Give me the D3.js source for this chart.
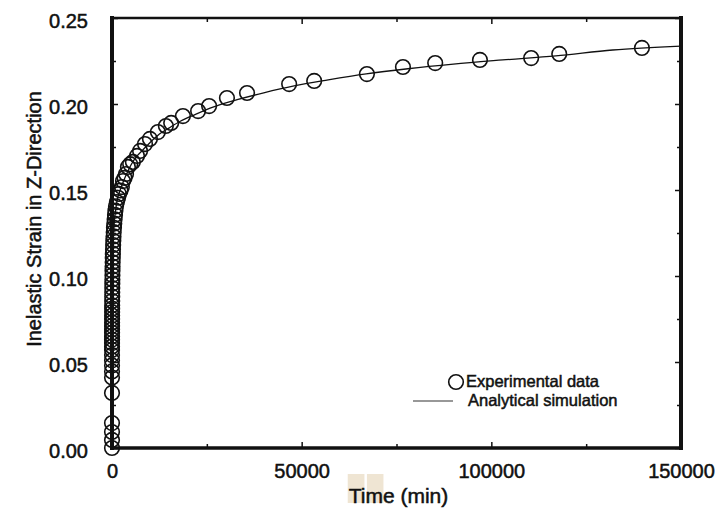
<!DOCTYPE html>
<html>
<head>
<meta charset="utf-8">
<script src="https://cdn.jsdelivr.net/npm/d3@7"></script>
<style>
  html, body { margin: 0; padding: 0; background: #fff; }
  svg text { font-family: "Liberation Sans", Arial, Helvetica, sans-serif; fill: #111; }
</style>
</head>
<body>
<svg id="chart" width="719" height="512"></svg>
<script>
// Creep test: measured inelastic strain vs. time, with the analytical fit.
const expTime = [
  0, 0, 0, 0, 1,
  3, 4, 5, 6, 7, 8, 9, 10, 12, 14, 16, 18, 20, 23, 26, 30, 34, 38, 43, 50,
  57, 65, 75, 85, 100, 115, 130, 150, 175, 200, 230, 265, 300, 345, 395, 450,
  520, 600, 690, 790, 900,
  1050, 1300, 1600, 1850, 2250, 2600, 2900, 3300, 3700, 4200, 4800, 5500,
  6600, 7400, 8700, 10000, 12100, 14200, 15600, 18700, 22700, 25600, 30300,
  35600, 46700, 53300, 67200, 76700, 85200, 97000, 110500, 117900, 139700
];
const expStrain = [
  0.000, 0.0047, 0.0093, 0.0145, 0.032,
  0.041, 0.0445, 0.048, 0.051, 0.054, 0.057, 0.059, 0.061, 0.063, 0.065, 0.067,
  0.069, 0.071, 0.073, 0.075, 0.077, 0.079, 0.081, 0.083, 0.0855,
  0.088, 0.0905, 0.093, 0.0955, 0.098, 0.1005, 0.103, 0.1055, 0.108, 0.1105,
  0.113, 0.1155, 0.118, 0.1205, 0.123, 0.1255,
  0.128, 0.1305, 0.133, 0.1355, 0.138,
  0.1405, 0.1430, 0.1455, 0.1477, 0.1497, 0.1517, 0.1552, 0.1570, 0.1593,
  0.1634, 0.1650, 0.1663, 0.1698, 0.1727, 0.1767, 0.1797, 0.1837, 0.1872,
  0.1890, 0.1930, 0.1959, 0.1988, 0.2035, 0.2064, 0.2116, 0.2134, 0.2174,
  0.2215, 0.2238, 0.2256, 0.2267, 0.2291, 0.2326
];

const simTime = [
  0, 1, 3, 10, 30, 100, 300, 600, 1000, 1500, 2000, 3000, 4000, 5000, 6500,
  8000, 10000, 12500, 15000, 18000, 22000, 27000, 33000, 40000, 48000, 57000,
  67000, 78000, 90000, 103000, 117000, 132000, 150000
];
const simStrain = [
  0, 0.033, 0.043, 0.061, 0.077, 0.098, 0.118, 0.131, 0.139, 0.1455, 0.149,
  0.155, 0.160, 0.1645, 0.1695, 0.173, 0.1775, 0.1825, 0.186, 0.190, 0.194,
  0.1985, 0.2025, 0.2065, 0.2105, 0.2140, 0.2175, 0.2205, 0.2232, 0.2256,
  0.2280, 0.2314, 0.2337
];

const xTickValues = [0, 50000, 100000, 150000];
const xTickLabels = ["0", "50000", "100000", "150000"];
const xMinorTicks = [25000, 75000, 125000];
const yTickValues = [0, 0.05, 0.10, 0.15, 0.20, 0.25];
const yTickLabels = ["0.00", "0.05", "0.10", "0.15", "0.20", "0.25"];
const yMinorTicks = [0.025, 0.075, 0.125, 0.175, 0.225];

const xTitle = "Time (min)";
const yTitle = "Inelastic Strain in Z-Direction";
const legendLabels = ["Experimental data", "Analytical simulation"];

const svg = d3.select("#chart");
const plot = { left: 112, right: 681, top: 18, bottom: 448 };

const x = d3.scaleLinear().domain([0, 150000]).range([plot.left, plot.right]);
const y = d3.scaleLinear().domain([0, 0.25]).range([plot.bottom, plot.top]);

const tickFont = 20;
const ink = "#111";
const textStroke = 0.5;

// Inward-pointing ticks on all four sides; labels only on bottom and left.
function styleAxis(g) {
  g.select(".domain").remove();
  g.selectAll(".tick line").attr("stroke", ink).attr("stroke-width", 1.5);
  g.selectAll(".tick text").attr("font-size", tickFont).attr("fill", ink)
    .attr("stroke", ink).attr("stroke-width", textStroke);
}

svg.append("g").attr("transform", `translate(0,${plot.bottom})`)
  .call(d3.axisBottom(x).tickValues(xTickValues)
    .tickFormat((d, i) => xTickLabels[i]).tickSizeInner(-6).tickSizeOuter(0).tickPadding(16))
  .call(styleAxis);
svg.append("g").attr("transform", `translate(0,${plot.bottom})`)
  .call(d3.axisBottom(x).tickValues(xMinorTicks).tickFormat("").tickSizeInner(-4).tickSizeOuter(0))
  .call(styleAxis);
svg.append("g").attr("transform", `translate(0,${plot.top})`)
  .call(d3.axisTop(x).tickValues(xTickValues).tickFormat("").tickSizeInner(-6).tickSizeOuter(0))
  .call(styleAxis);
svg.append("g").attr("transform", `translate(0,${plot.top})`)
  .call(d3.axisTop(x).tickValues(xMinorTicks).tickFormat("").tickSizeInner(-4).tickSizeOuter(0))
  .call(styleAxis);

svg.append("g").attr("transform", `translate(${plot.left},0)`)
  .call(d3.axisLeft(y).tickValues(yTickValues)
    .tickFormat((d, i) => yTickLabels[i]).tickSizeInner(-6).tickSizeOuter(0).tickPadding(24))
  .call(styleAxis)
  .call(g => g.selectAll(".tick text").attr("dy", "0.45em"));
svg.append("g").attr("transform", `translate(${plot.left},0)`)
  .call(d3.axisLeft(y).tickValues(yMinorTicks).tickFormat("").tickSizeInner(-4).tickSizeOuter(0))
  .call(styleAxis);
svg.append("g").attr("transform", `translate(${plot.right},0)`)
  .call(d3.axisRight(y).tickValues(yTickValues).tickFormat("").tickSizeInner(-6).tickSizeOuter(0))
  .call(styleAxis);
svg.append("g").attr("transform", `translate(${plot.right},0)`)
  .call(d3.axisRight(y).tickValues(yMinorTicks).tickFormat("").tickSizeInner(-4).tickSizeOuter(0))
  .call(styleAxis);

// Plot frame: heavier left/bottom/right edges, lighter top edge.
const frame = svg.append("g").attr("stroke", ink).attr("stroke-linecap", "square");
frame.append("line").attr("x1", plot.left).attr("x2", plot.left)
  .attr("y1", plot.top).attr("y2", plot.bottom).attr("stroke-width", 4);
frame.append("line").attr("x1", plot.left).attr("x2", plot.right)
  .attr("y1", plot.bottom).attr("y2", plot.bottom).attr("stroke-width", 3.5);
frame.append("line").attr("x1", plot.right).attr("x2", plot.right)
  .attr("y1", plot.top).attr("y2", plot.bottom).attr("stroke-width", 4);
frame.append("line").attr("x1", plot.left).attr("x2", plot.right)
  .attr("y1", plot.top).attr("y2", plot.top).attr("stroke-width", 2.5);

// Analytical simulation curve.
const simData = simTime.map((t, i) => ({ t, v: simStrain[i] }));
svg.append("path")
  .datum(simData)
  .attr("fill", "none")
  .attr("stroke", ink)
  .attr("stroke-width", 1.3)
  .attr("d", d3.line().x(d => x(d.t)).y(d => y(d.v)).curve(d3.curveMonotoneX));

// Experimental data as open circles.
const expData = expTime.map((t, i) => ({ t, v: expStrain[i] }));
svg.append("g")
  .selectAll("circle")
  .data(expData)
  .join("circle")
  .attr("cx", d => x(d.t))
  .attr("cy", d => y(d.v))
  .attr("r", 7.3)
  .attr("fill", "none")
  .attr("stroke", ink)
  .attr("stroke-width", 1.6);

// Axis titles.
const xt = svg.append("g");
const xTitleText = xt.append("text")
  .attr("x", (plot.left + plot.right) / 2 + 2)
  .attr("y", 503)
  .attr("text-anchor", "middle")
  .attr("font-size", 21)
  .attr("stroke", ink).attr("stroke-width", textStroke)
  .text(xTitle);
// Faint tan shading behind the first letters of the x title.
{
  const node = xTitleText.node();
  const e0 = node.getExtentOfChar(0), e1 = node.getExtentOfChar(1), e2 = node.getExtentOfChar(2);
  const top = 474, h = 29;
  xt.insert("rect", "text").attr("x", e0.x - 1).attr("y", top)
    .attr("width", e1.x + e1.width - e0.x).attr("height", h).attr("fill", "#efe5d3");
  xt.insert("rect", "text").attr("x", e2.x + 1.5).attr("y", top)
    .attr("width", e2.width - 1).attr("height", h).attr("fill", "#efe5d3");
}

svg.append("text")
  .attr("transform", `translate(41,219) rotate(-90)`)
  .attr("text-anchor", "middle")
  .attr("font-size", 20)
  .attr("stroke", ink).attr("stroke-width", textStroke)
  .text(yTitle);

// Legend.
const legendFont = 16.5;
const lg = svg.append("g");
lg.append("circle").attr("cx", 456).attr("cy", 382).attr("r", 7.3)
  .attr("fill", "none").attr("stroke", ink).attr("stroke-width", 1.6);
lg.append("text").attr("x", 466).attr("y", 387).attr("font-size", legendFont)
  .attr("stroke", ink).attr("stroke-width", textStroke).text(legendLabels[0]);
lg.append("line").attr("x1", 413).attr("x2", 453).attr("y1", 401).attr("y2", 401)
  .attr("stroke", "#333").attr("stroke-width", 1.1);
lg.append("text").attr("x", 468).attr("y", 406).attr("font-size", legendFont)
  .attr("stroke", ink).attr("stroke-width", textStroke).text(legendLabels[1]);
</script>
</body>
</html>
